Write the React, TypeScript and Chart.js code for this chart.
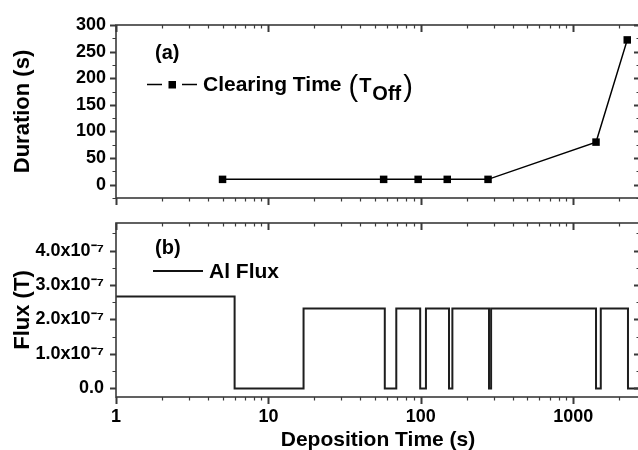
import React, { useEffect, useRef } from 'react';
import { Chart, registerables } from 'chart.js';

Chart.register(...registerables);

// ---- data ----
const clearDepTimes = [5, 57, 96, 149, 276, 1410, 2260];
const clearDurations = [10, 10, 10, 10, 10, 80, 272];

const fluxTimes = [1, 6, 17, 58, 69, 99, 108, 153, 161, 280, 289, 1410, 1515, 2285, 2740];
const fluxValues = [2.67e-7, 0, 2.32e-7, 0, 2.32e-7, 0, 2.32e-7, 0, 2.32e-7, 0, 2.32e-7, 0, 2.32e-7, 0, 0];

const xMin = 1;
const xMax = 2740;
const xTickLabels = ['1', '10', '100', '1000'];

const durMin = -25;
const durMax = 300;
const durTicks = [0, 50, 100, 150, 200, 250, 300];
const durTickLabels = ['0', '50', '100', '150', '200', '250', '300'];

const fluxMin = -0.25e-7;
const fluxMax = 4.8e-7;
const fluxTicks = [0, 1e-7, 2e-7, 3e-7, 4e-7];
const fluxTickLabels = ['0.0', '1.0x10⁻⁷', '2.0x10⁻⁷', '3.0x10⁻⁷', '4.0x10⁻⁷'];

const topLegendLabel = 'Clearing Time';
const bottomLegendLabel = 'Al Flux';
const xTitle = 'Deposition Time (s)';
const topYTitle = 'Duration (s)';
const bottomYTitle = 'Flux (T)';

const FONT = "'Liberation Sans', Arial, Helvetica, sans-serif";
const AXIS = '#3a3a3a';
const CANVAS_W = 640;

function framePlugin(majorTicks: number[]) {
  return {
    id: 'frameTicks',
    afterDraw(chart: any) {
      const { ctx, chartArea: a, scales } = chart;
      const xs = scales.x;
      const ys = scales.y;
      ctx.save();
      ctx.strokeStyle = AXIS;
      for (let d = 0; d <= 4; d++) {
        for (let m = 1; m <= 9; m++) {
          const v = m * Math.pow(10, d);
          if (v < xs.min - 1e-9 || v > xs.max) continue;
          const px = Math.round(xs.getPixelForValue(v)) + 0.5;
          const major = m === 1;
          const len = major ? 7 : 3.5;
          ctx.lineWidth = major ? 2 : 1.2;
          ctx.beginPath();
          ctx.moveTo(px, a.bottom);
          ctx.lineTo(px, a.bottom + len);
          ctx.moveTo(px, a.top);
          ctx.lineTo(px, a.top + len);
          ctx.stroke();
        }
      }
      const step = majorTicks[1] - majorTicks[0];
      const half = step / 2;
      const i0 = Math.ceil(ys.min / half - 1e-6);
      const i1 = Math.floor(ys.max / half + 1e-6);
      for (let i = i0; i <= i1; i++) {
        const v = i * half;
        const py = Math.round(ys.getPixelForValue(v)) + 0.5;
        const major = i % 2 === 0;
        const len = major ? 6 : 3.5;
        ctx.lineWidth = major ? 2 : 1.2;
        ctx.beginPath();
        ctx.moveTo(a.left, py);
        ctx.lineTo(a.left - len, py);
        ctx.moveTo(a.right, py);
        ctx.lineTo(a.right - len, py);
        ctx.stroke();
      }
      ctx.lineWidth = 1.6;
      ctx.strokeRect(a.left, a.top, a.right - a.left, a.bottom - a.top);
      ctx.restore();
    },
  };
}

const topLegendPlugin = {
  id: 'topLegend',
  afterDraw(chart: any) {
    const ctx = chart.ctx;
    ctx.save();
    ctx.fillStyle = '#000';
    ctx.textBaseline = 'alphabetic';
    ctx.font = `bold 20px ${FONT}`;
    ctx.fillText('(a)', 155, 59);
    ctx.strokeStyle = '#000';
    ctx.lineWidth = 1.6;
    ctx.beginPath();
    ctx.moveTo(147, 84.5);
    ctx.lineTo(162, 84.5);
    ctx.moveTo(182, 84.5);
    ctx.lineTo(197, 84.5);
    ctx.stroke();
    ctx.fillRect(168.5, 81, 7.5, 7.5);
    ctx.font = `bold 21px ${FONT}`;
    ctx.fillText(topLegendLabel, 203, 91);
    let x = 203 + ctx.measureText(topLegendLabel).width + 7;
    ctx.font = `29px ${FONT}`;
    ctx.fillText('(', x, 96);
    x += ctx.measureText('(').width + 1;
    ctx.font = `bold 20px ${FONT}`;
    ctx.fillText('T', x, 92);
    x += ctx.measureText('T').width + 1;
    ctx.font = `bold 20px ${FONT}`;
    ctx.fillText('Off', x, 100);
    x += ctx.measureText('Off').width + 2;
    ctx.font = `29px ${FONT}`;
    ctx.fillText(')', x, 96);
    ctx.restore();
  },
};

const BOTTOM_OFFSET = 205;

const bottomLegendPlugin = {
  id: 'bottomLegend',
  afterDraw(chart: any) {
    const ctx = chart.ctx;
    const o = BOTTOM_OFFSET;
    ctx.save();
    ctx.fillStyle = '#000';
    ctx.textBaseline = 'alphabetic';
    ctx.font = `bold 20px ${FONT}`;
    ctx.fillText('(b)', 155, 254 - o);
    ctx.strokeStyle = '#111';
    ctx.lineWidth = 1.8;
    ctx.beginPath();
    ctx.moveTo(153, 271 - o);
    ctx.lineTo(203, 271 - o);
    ctx.stroke();
    ctx.font = `bold 21px ${FONT}`;
    ctx.fillText(bottomLegendLabel, 209, 278 - o);
    ctx.restore();
  },
};

const tickFont = { family: FONT, size: 18, weight: 'bold' as const };
const yTitleFont = { family: FONT, size: 22, weight: 'bold' as const, lineHeight: 1.2 };

function setTicks(values: number[]) {
  return (s: any) => {
    s.ticks = values.map((v) => ({ value: v }));
  };
}

function labelFrom(values: number[], labels: string[]) {
  return (v: any) => {
    const n = Number(v);
    const i = values.findIndex((t) => Math.abs(t - n) <= Math.abs(t) * 1e-6 + 1e-15);
    return i >= 0 ? labels[i] : '';
  };
}

function fixSize(dim: 'width' | 'height', size: number) {
  return (s: any) => {
    s[dim] = size;
    s.paddingTop = 0;
    s.paddingBottom = 0;
    s.paddingLeft = 0;
    s.paddingRight = 0;
  };
}

const xTickValues = xTickLabels.map((l) => Number(l));

export default function App() {
  const topRef = useRef<HTMLCanvasElement>(null);
  const botRef = useRef<HTMLCanvasElement>(null);

  useEffect(() => {
    const top = new Chart(topRef.current as HTMLCanvasElement, {
      type: 'line',
      data: {
        datasets: [
          {
            label: topLegendLabel,
            data: clearDepTimes.map((x, i) => ({ x, y: clearDurations[i] })),
            borderColor: '#000',
            borderWidth: 1.5,
            pointStyle: 'rect',
            pointRadius: 5.3,
            pointBackgroundColor: '#000',
            pointBorderColor: '#000',
            pointBorderWidth: 0,
            tension: 0,
            clip: false,
          },
        ],
      },
      options: {
        responsive: false,
        animation: false,
        layout: { autoPadding: false, padding: { top: 25, right: 0, bottom: 0, left: 0 } },
        plugins: { legend: { display: false }, tooltip: { enabled: false } },
        scales: {
          x: {
            type: 'logarithmic',
            min: xMin,
            max: xMax,
            grid: { display: false, drawTicks: false },
            border: { display: false },
            ticks: { display: false },
            afterFit: fixSize('height', 12),
          },
          y: {
            min: durMin,
            max: durMax,
            grid: { display: false, drawTicks: false },
            border: { display: false },
            afterBuildTicks: setTicks(durTicks),
            ticks: {
              autoSkip: false,
              color: '#000',
              font: tickFont,
              padding: 10,
              callback: labelFrom(durTicks, durTickLabels),
            },
            title: {
              display: true,
              text: topYTitle,
              color: '#000',
              font: yTitleFont,
              padding: { top: 10, bottom: 0 },
            },
            afterFit: fixSize('width', 116),
          },
        },
      } as any,
      plugins: [framePlugin(durTicks), topLegendPlugin],
    });

    const bot = new Chart(botRef.current as HTMLCanvasElement, {
      type: 'line',
      data: {
        datasets: [
          {
            label: bottomLegendLabel,
            data: fluxTimes.map((x, i) => ({ x, y: fluxValues[i] })),
            borderColor: '#1e1e1e',
            borderWidth: 2,
            pointRadius: 0,
            stepped: 'before',
          },
        ],
      },
      options: {
        responsive: false,
        animation: false,
        layout: { autoPadding: false, padding: { top: 18, right: 0, bottom: 0, left: 0 } },
        plugins: { legend: { display: false }, tooltip: { enabled: false } },
        scales: {
          x: {
            type: 'logarithmic',
            min: xMin,
            max: xMax,
            grid: { display: false, drawTicks: false },
            border: { display: false },
            afterBuildTicks: setTicks(xTickValues),
            ticks: {
              autoSkip: false,
              maxRotation: 0,
              color: '#000',
              font: tickFont,
              padding: 9,
              callback: labelFrom(xTickValues, xTickLabels),
            },
            title: {
              display: true,
              text: xTitle,
              color: '#000',
              font: { family: FONT, size: 21, weight: 'bold', lineHeight: 0.9 },
              padding: { top: 0, bottom: 0 },
            },
            afterFit: fixSize('height', 53),
          },
          y: {
            min: fluxMin,
            max: fluxMax,
            grid: { display: false, drawTicks: false },
            border: { display: false },
            afterBuildTicks: setTicks(fluxTicks),
            ticks: {
              autoSkip: false,
              color: '#000',
              font: tickFont,
              padding: 12,
              callback: labelFrom(fluxTicks, fluxTickLabels),
            },
            title: {
              display: true,
              text: bottomYTitle,
              color: '#000',
              font: yTitleFont,
              padding: { top: 10, bottom: 0 },
            },
            afterFit: fixSize('width', 116),
          },
        },
      } as any,
      plugins: [framePlugin(fluxTicks), bottomLegendPlugin],
    });

    return () => {
      top.destroy();
      bot.destroy();
    };
  }, []);

  return (
    <div
      style={{
        position: 'absolute',
        left: 0,
        top: 0,
        width: 638,
        height: 450,
        background: '#fff',
        overflow: 'hidden',
      }}
    >
      <canvas
        ref={topRef}
        width={CANVAS_W}
        height={210}
        style={{ position: 'absolute', left: 0, top: 0, width: CANVAS_W, height: 210 }}
      />
      <canvas
        ref={botRef}
        width={CANVAS_W}
        height={245}
        style={{ position: 'absolute', left: 0, top: BOTTOM_OFFSET, width: CANVAS_W, height: 245 }}
      />
    </div>
  );
}
